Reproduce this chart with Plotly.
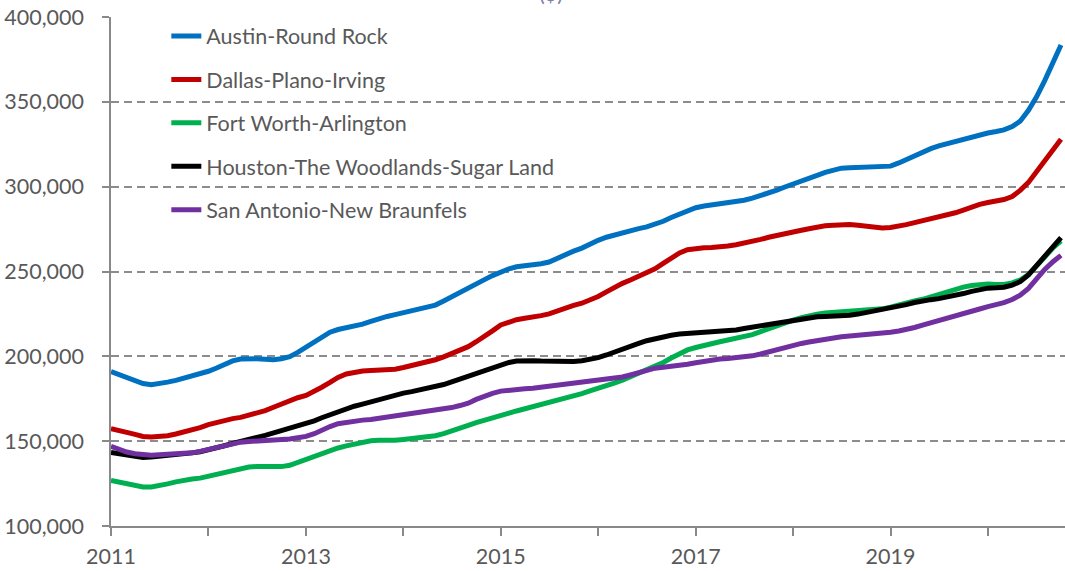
import pandas as pd
import plotly.graph_objects as go

# Monthly median home prices, Jan 2011 - Oct 2020 (thousands of $)
months = pd.date_range("2011-01-01", periods=118, freq="MS")

austin = [
    191.0, 189.0, 187.2, 185.8, 184.0, 183.3, 183.8, 184.8, 185.8, 187.0, 188.0, 189.3,
    191.2, 193.1, 195.3, 197.3, 198.4, 198.7, 198.6, 198.3, 198.0, 198.6, 199.8, 202.3,
    205.5, 208.7, 211.8, 214.2, 215.8, 216.8, 218.0, 219.0, 220.6, 222.2, 223.5, 224.6,
    225.8, 227.0, 228.0, 229.0, 230.2, 232.6, 235.2, 238.0, 240.7, 243.2, 245.2, 247.6,
    250.0, 251.6, 252.8, 253.3, 253.4, 254.6, 255.6, 258.0, 259.6, 262.0, 263.8, 266.2,
    268.4, 270.2, 271.6, 273.0, 274.1, 275.3, 276.3, 277.8, 279.6, 281.8, 284.0, 286.2,
    287.6, 288.6, 289.2, 289.5, 290.3, 291.0, 292.0, 293.2, 294.6, 296.3, 298.0, 299.8,
    301.4, 303.0, 304.8, 306.6, 308.4, 310.0, 310.9, 311.2, 311.3, 311.3, 311.3, 311.6,
    312.1, 314.0, 316.0, 318.4, 320.7, 322.4, 324.0, 325.3, 326.5, 328.0, 329.7, 330.8,
    331.6, 332.5, 333.5, 335.4, 338.6, 345.0, 352.8, 362.5, 372.5, 383.5,
]

dallas = [
    157.4, 156.6, 155.2, 154.0, 152.8, 152.4, 152.5, 153.2, 154.2, 155.3, 156.5, 158.0,
    159.8, 161.2, 162.3, 163.3, 164.0, 165.3, 166.2, 168.0, 170.0, 172.0, 174.0, 175.6,
    177.0, 179.2, 181.8, 184.6, 187.6, 189.6, 190.8, 191.4, 191.6, 191.7, 191.7, 192.4,
    193.4, 194.5, 195.8, 197.0, 198.0, 199.7, 201.5, 203.6, 205.7, 208.6, 211.5, 215.0,
    218.5, 220.5, 221.6, 222.4, 223.0, 224.0, 225.0, 226.8, 228.5, 230.0, 231.3, 233.2,
    235.3, 238.0, 240.6, 243.0, 245.0, 247.0, 249.0, 251.6, 254.8, 258.0, 260.9, 262.8,
    263.6, 264.0, 264.1, 264.3, 265.0, 265.8, 266.6, 267.6, 268.9, 270.2, 271.4, 272.4,
    273.3, 274.3, 275.2, 276.2, 276.9, 277.2, 277.5, 277.7, 277.3, 276.5, 275.8, 275.6,
    275.9, 276.6, 277.6, 278.8, 279.8, 280.9, 282.0, 283.2, 284.6, 286.2, 288.0, 289.6,
    290.7, 291.6, 292.4, 294.2, 297.8, 302.5, 309.0, 316.0, 322.3, 328.0,
]

fort_worth = [
    126.9, 126.0, 124.8, 123.8, 123.0, 123.0, 123.6, 124.8, 126.0, 127.0, 127.7, 128.2,
    129.3, 130.5, 131.6, 133.0, 134.2, 134.8, 135.1, 135.0, 134.8, 135.0, 135.8, 137.6,
    139.3, 141.2, 143.0, 144.6, 146.0, 147.2, 148.4, 149.4, 150.2, 150.5, 150.3, 150.5,
    151.0, 151.4, 152.0, 152.8, 153.2, 154.4, 155.8, 157.6, 159.3, 160.9, 162.5, 163.9,
    165.2, 166.5, 167.8, 169.0, 170.2, 171.4, 172.5, 173.7, 175.0, 176.5, 178.0, 179.6,
    181.0, 182.6, 184.2, 186.0, 188.0, 190.0, 192.0, 194.2, 196.4, 199.0, 201.6, 203.8,
    205.2, 206.5, 207.8, 208.6, 209.6, 210.6, 211.6, 212.8, 214.6, 216.4, 218.0, 219.6,
    221.3, 222.8, 224.0, 224.8, 225.5, 225.9, 226.0, 226.1, 226.5, 227.0, 227.5, 228.0,
    229.0, 230.4, 231.8, 232.7, 233.6, 235.0, 236.6, 238.2, 239.8, 240.8, 241.7, 242.3,
    242.6, 242.4, 242.4, 243.3, 245.0, 248.2, 253.0, 258.5, 264.0, 268.0,
]

houston = [
    143.3, 142.6, 141.7, 141.0, 140.4, 140.6, 141.0, 141.6, 142.2, 142.6, 143.1, 143.8,
    144.8, 146.0, 147.3, 148.6, 150.0, 151.2, 152.2, 153.4, 154.8, 156.3, 157.7, 159.0,
    160.4, 162.0, 163.8, 165.6, 167.6, 169.4, 170.6, 171.8, 173.2, 174.6, 176.0, 177.2,
    178.3, 179.2, 180.2, 181.0, 182.2, 183.4, 185.0, 186.6, 188.3, 190.0, 191.8, 193.6,
    195.2, 196.4, 197.2, 197.5, 197.4, 197.2, 197.0, 196.8, 196.7, 196.9, 197.4, 198.2,
    199.2, 200.8, 202.6, 204.4, 206.0, 207.6, 209.2, 210.4, 211.6, 212.4, 213.1, 213.5,
    213.8, 214.0, 214.2, 214.4, 214.9, 215.5, 216.4, 217.2, 218.2, 219.0, 219.9, 220.9,
    221.7, 222.3, 222.8, 223.3, 223.5, 223.5, 223.8, 224.2, 224.9, 225.8, 226.5, 227.3,
    228.2, 229.3, 230.5, 231.7, 232.8, 233.4, 234.0, 234.8, 235.8, 237.0, 238.3, 239.5,
    240.2, 240.4, 240.7, 242.0, 244.0, 248.0, 253.5, 259.5, 265.0, 270.0,
]

san_antonio = [
    147.0, 145.2, 143.6, 142.6, 141.8, 141.7, 142.0, 142.2, 142.6, 142.9, 143.1, 144.0,
    145.1, 146.3, 147.2, 148.4, 149.4, 149.8, 150.0, 150.2, 150.5, 150.9, 151.3, 152.0,
    152.8, 154.4, 156.6, 158.6, 160.3, 161.2, 161.8, 162.4, 162.8, 163.5, 164.2, 164.8,
    165.4, 166.0, 166.6, 167.3, 168.0, 168.9, 169.8, 171.0, 172.4, 174.6, 176.6, 178.2,
    179.5, 180.2, 180.6, 180.9, 181.2, 181.8, 182.5, 183.0, 183.5, 184.0, 184.5, 185.0,
    185.5, 186.2, 187.0, 187.8, 189.0, 190.4, 192.0, 193.0, 193.6, 194.0, 194.6, 195.3,
    196.2, 197.2, 197.9, 198.4, 198.7, 199.0, 199.6, 200.3, 201.4, 202.6, 204.0, 205.6,
    206.8, 207.6, 208.4, 209.3, 210.2, 210.9, 211.5, 212.0, 212.3, 212.6, 213.0, 213.6,
    214.2, 214.9, 215.7, 217.0, 218.4, 219.7, 221.1, 222.3, 223.4, 224.8, 226.4, 227.9,
    229.3, 230.4, 231.7, 233.5, 236.0, 240.0, 246.0, 251.2, 255.8, 259.5,
]

series_names = [
    "Austin-Round Rock",
    "Dallas-Plano-Irving",
    "Fort Worth-Arlington",
    "Houston-The Woodlands-Sugar Land",
    "San Antonio-New Braunfels",
]
series_values = [austin, dallas, fort_worth, houston, san_antonio]
series_colors = ["#0070C0", "#C00000", "#00B050", "#000000", "#7030A0"]

title_text = "($)"

FONT = "Lato"
TEXT = "#595959"
AXIS = "#898989"
FS = 21.5

fig = go.Figure()
for i, (name, vals, col) in enumerate(zip(series_names, series_values, series_colors)):
    fig.add_trace(go.Scatter(
        x=months, y=[v * 1000 for v in vals], name=name, mode="lines",
        line=dict(color=col, width=5), legendgroup=f"g{i}",
        hoverinfo="skip",
    ))

fig.update_layout(
    width=1065, height=571,
    margin=dict(l=111, r=0, t=17, b=45),
    paper_bgcolor="white", plot_bgcolor="white",
    font=dict(family=FONT, size=FS, color=TEXT),
    showlegend=True,
    legend=dict(
        x=0.058, y=1.003, xanchor="left", yanchor="top",
        bgcolor="rgba(0,0,0,0)", traceorder="grouped", tracegroupgap=12.5,
        font=dict(family=FONT, size=FS, color=TEXT),
    ),
    xaxis=dict(
        type="date", range=["2011-01-01", "2020-10-16"],
        tick0="2011-01-01", dtick="M24", tickformat="%Y",
        ticks="outside", ticklen=8, tickwidth=1.5, tickcolor=AXIS,
        minor=dict(dtick="M12", ticks="outside", ticklen=8, tickwidth=1.5, tickcolor=AXIS, showgrid=False),
        showline=True, linecolor=AXIS, linewidth=1.5,
        showgrid=False, zeroline=False, ticklabelstandoff=2,
        automargin=False,
        tickfont=dict(family=FONT, size=FS, color=TEXT),
    ),
    yaxis=dict(
        range=[100000, 400000], dtick=50000, tick0=100000,
        tickformat=",d",
        ticks="outside", ticklen=7, tickwidth=1.5, tickcolor=AXIS,
        showline=True, linecolor=AXIS, linewidth=1.5,
        showgrid=True, gridcolor="#8c8c8c", gridwidth=1.5, griddash="8px,5px",
        zeroline=False, ticklabelstandoff=14, automargin=False,
        tickfont=dict(family=FONT, size=FS, color=TEXT),
    ),
    annotations=[dict(
        text=title_text, xref="paper", yref="paper", x=0.461, y=1.0,
        xanchor="center", yanchor="bottom", yshift=9, showarrow=False,
        font=dict(family=FONT, size=FS, color="#7b80b0"),
    )],
)

fig.write_html("out.html", config={"displayModeBar": False},
               post_script="document.body.style.margin='0';")
